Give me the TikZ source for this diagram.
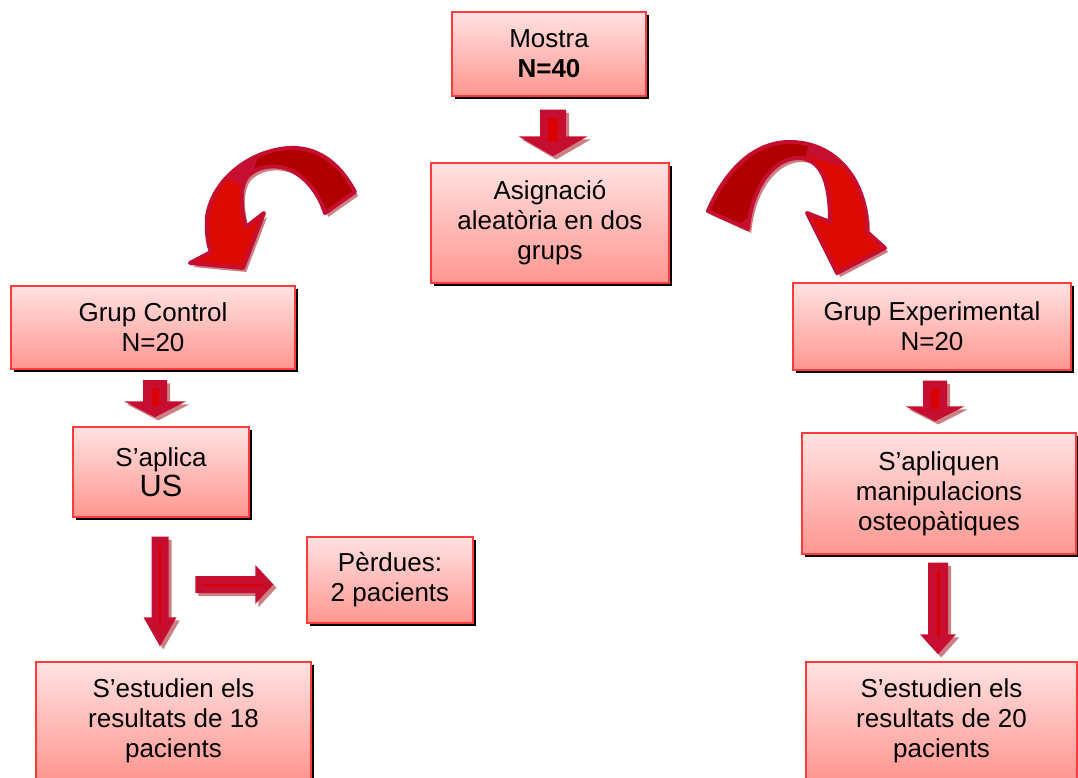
\documentclass[tikz,border=0pt]{standalone}
\usepackage{fontspec}
\setmainfont{Liberation Sans}
\usetikzlibrary{calc}
\definecolor{boxtop}{RGB}{255,226,226}
\definecolor{boxbot}{RGB}{255,150,144}
\definecolor{boxline}{RGB}{255,60,60}
\definecolor{crimsonA}{RGB}{198,14,48}
\definecolor{stripeA}{RGB}{220,0,0}
\definecolor{shadowA}{RGB}{205,128,132}
\definecolor{darkA}{RGB}{176,0,0}
\definecolor{brightA}{RGB}{220,10,0}
\tikzset{
  box/.style={draw=boxline, line width=1.1pt, top color=boxtop, bottom color=boxbot,
    align=center, inner sep=0pt, text=black,
    font=\fontsize{19.5pt}{22.5pt}\selectfont,
    preaction={fill=black, transform canvas={xshift=2.4pt, yshift=-2.4pt}}},
  arrowbody/.style={fill=crimsonA},
  arrowshade/.style={fill=shadowA, transform canvas={xshift=2.4pt, yshift=-2.4pt}},
  arrowstripe/.style={fill=stripeA},
  curveborder/.style={draw=crimsonA, line width=3pt, line join=round},
}
% vertical block arrow: #1 start, #2 tip, #3 half shaft, #4 half head, #5 head length,
% #6 stripe half width, #7 stripe end above tip (all in px)
\newcommand\vblockarrow[7]{%
  \foreach \st in {arrowshade,arrowbody}{%
  \path[\st] let \p1=#1, \p2=#2 in
    ({\x1-#3*0.75pt},\y1) -- ({\x1+#3*0.75pt},\y1) -- ({\x1+#3*0.75pt},{\y2+#5*0.75pt})
    -- ({\x1+#4*0.75pt},{\y2+#5*0.75pt}) -- (\x1,\y2) -- ({\x1-#4*0.75pt},{\y2+#5*0.75pt})
    -- ({\x1-#3*0.75pt},{\y2+#5*0.75pt}) -- cycle;}
  \path[arrowstripe] let \p1=#1, \p2=#2 in
    ({\x1-#6*0.75pt},{\y1-8*0.75pt}) rectangle ({\x1+#6*0.75pt},{\y2+#7*0.75pt});
}
\newcommand\hblockarrow[7]{%
  \foreach \st in {arrowshade,arrowbody}{%
  \path[\st] let \p1=#1, \p2=#2 in
    (\x1,{\y1+#3*0.75pt}) -- ({\x2-#5*0.75pt},{\y1+#3*0.75pt}) -- ({\x2-#5*0.75pt},{\y1+#4*0.75pt})
    -- (\x2,\y1) -- ({\x2-#5*0.75pt},{\y1-#4*0.75pt}) -- ({\x2-#5*0.75pt},{\y1-#3*0.75pt})
    -- (\x1,{\y1-#3*0.75pt}) -- cycle;}
  \path[arrowstripe] let \p1=#1, \p2=#2 in
    ({\x1+7*0.75pt},{\y1-#6*0.75pt}) rectangle ({\x2-#7*0.75pt},{\y1+#6*0.75pt});
}
\def\leftcurve{(355,192) .. controls (338,160) and (315,147) .. (290,148)
  .. controls (250,150) and (212,180) .. (207,217)
  .. controls (206,232) and (208,245) .. (211,252)
  -- (190,263) -- (243,268) -- (264,213) -- (246,227)
  .. controls (240,205) and (240,185) .. (248,176)
  .. controls (256,168) and (268,165) .. (280,167)
  .. controls (300,170) and (318,190) .. (325,213) -- cycle}
\def\rightcurve{(708,211) .. controls (725,172) and (752,143) .. (788,142)
  .. controls (835,141) and (868,180) .. (867,232)
  -- (885,248) -- (837,273) -- (807,213) -- (830,222)
  .. controls (830,190) and (825,160) .. (800,158)
  .. controls (775,157) and (752,185) .. (748,229) -- cycle}
\begin{document}
\begin{tikzpicture}[x=0.75pt, y=-0.75pt]
\useasboundingbox (0,0) rectangle (1078,778);
\fill[white] (0,0) rectangle (1078,778);

% boxes
\node[box, minimum width=145.5pt, minimum height=63pt] (mostra) at (549,54) {Mostra\\\textbf{N=40}};
\node[box, minimum width=178.5pt, minimum height=90pt] (asig) at (550,223) {Asignació\\aleatòria en dos\\grups};
\node[box, minimum width=213pt, minimum height=62.25pt] (control) at (153,327.5) {Grup Control\\N=20};
\node[box, minimum width=208.5pt, minimum height=65.25pt] (exper) at (932,326.5) {Grup Experimental\\N=20};
\node[box, minimum width=132pt, minimum height=67.5pt] (saplica) at (161,472) {S’aplica\\{\fontsize{23pt}{27pt}\selectfont US}};
\node[box, minimum width=205.5pt, minimum height=90.75pt] (sapliquen) at (939,493.5) {S’apliquen\\manipulacions\\osteopàtiques};
\node[box, minimum width=124.5pt, minimum height=64.5pt] (perdues) at (390,580) {Pèrdues:\\2 pacients};
\node[box, minimum width=206.25pt, minimum height=88.5pt] (estL) at (173.5,721) {S’estudien els\\resultats de 18\\pacients};
\node[box, minimum width=203.25pt, minimum height=88.5pt] (estR) at (941.5,721) {S’estudien els\\resultats de 20\\pacients};

% straight block arrows
\vblockarrow{($(mostra.south)+(4,13)$)}{($(asig.north)+(3,-6)$)}{13}{34.5}{20}{5}{14}
\vblockarrow{($(control.south)+(2,10.5)$)}{($(saplica.north)+(-6,-9)$)}{12}{31}{16}{3.5}{11}
\vblockarrow{($(saplica.south)+(-1,19)$)}{($(estL.north)+(-13.5,-15)$)}{8.5}{16.5}{29}{1}{19}
\hblockarrow{($(perdues.west)+(-111,4.5)$)}{($(perdues.west)+(-33,4.5)$)}{8.5}{19.5}{18}{1}{9}
\vblockarrow{($(exper.south)+(3,10)$)}{($(sapliquen.north)+(-4,-11)$)}{12}{29.5}{15}{4}{12}
\vblockarrow{($(sapliquen.south)+(-1,8)$)}{($(estR.north)+(-3.5,-7)$)}{10}{18}{20}{1.5}{18}

% curved arrows (Asignació -> the two groups)
\fill[shadowA, transform canvas={xshift=2.4pt, yshift=-3pt}] \leftcurve;
\fill[crimsonA] \leftcurve;
\begin{scope}
  \clip \leftcurve;
  \fill[brightA] (150,136) -- (300,218) -- (300,300) -- (150,300) -- cycle;
  \fill[darkA] (273,100) -- (248,193) -- (400,260) -- (400,100) -- cycle;
\end{scope}
\draw[curveborder] \leftcurve;

\fill[shadowA, transform canvas={xshift=2.4pt, yshift=-3pt}] \rightcurve;
\fill[crimsonA] \rightcurve;
\begin{scope}
  \clip \rightcurve;
  \fill[brightA] (800,154) -- (900,184) -- (900,300) -- (800,300) -- cycle;
  \fill[darkA] (690,100) -- (821,100) -- (799,180) -- (690,260) -- cycle;
\end{scope}
\draw[curveborder] \rightcurve;
\end{tikzpicture}
\end{document}
